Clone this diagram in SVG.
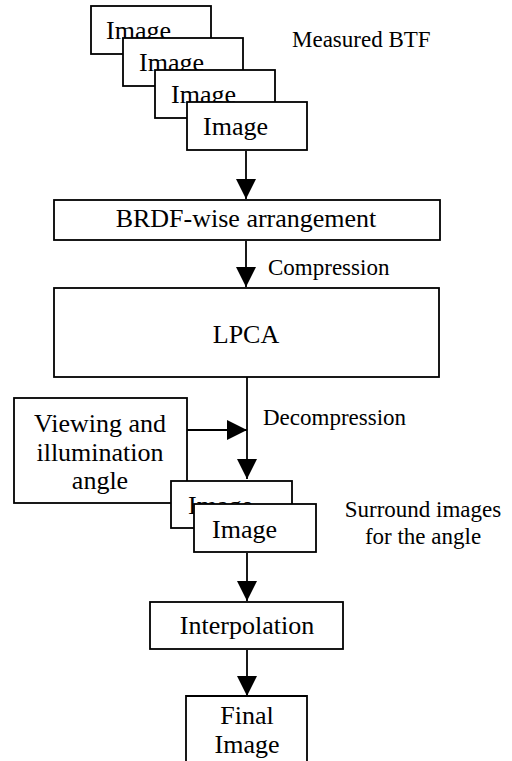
<svg xmlns="http://www.w3.org/2000/svg" width="512" height="761" viewBox="0 0 512 761">
<style>
.box{fill:#fff;stroke:#000;stroke-width:1.8}
.t{font-family:"Liberation Serif","Times New Roman",serif;font-size:26px;fill:#000}
.s{font-family:"Liberation Serif","Times New Roman",serif;font-size:23px;fill:#000}
.m{text-anchor:middle}
.ln{stroke:#000;stroke-width:1.8;fill:none}
</style>
<defs>
<marker id="ah" viewBox="0 0 20 20" refX="20" refY="10" markerWidth="20" markerHeight="20" markerUnits="userSpaceOnUse" orient="auto">
<path d="M0,0 L20,10 L0,20 Z" fill="#000"/>
</marker>
</defs>
<rect width="512" height="761" fill="#fff"/>
<g id="measured">
<g id="img1"><rect class="box" x="91" y="6" width="120" height="48"/><text class="t" x="106" y="39">Image</text></g>
<g id="img2"><rect class="box" x="123" y="38" width="120" height="48"/><text class="t" x="139" y="71">Image</text></g>
<g id="img3"><rect class="box" x="155" y="70" width="120" height="48"/><text class="t" x="171" y="103">Image</text></g>
<g id="img4"><rect class="box" x="187" y="102" width="120" height="48"/><text class="t" x="203" y="135">Image</text></g>
<text class="s" x="292" y="47" font-size="22">Measured BTF</text>
</g>
<g id="brdf"><rect class="box" x="54" y="200" width="386" height="40"/><text class="t m" x="246" y="227">BRDF-wise arrangement</text></g>
<g id="lpca"><rect class="box" x="54" y="288" width="385" height="89"/><text class="t m" x="246" y="343">LPCA</text></g>
<g id="viewing"><rect class="box" x="14" y="398" width="173" height="105"/>
<text class="t m" x="100" y="432">Viewing and</text>
<text class="t m" x="100" y="461">illumination</text>
<text class="t m" x="100" y="489">angle</text></g>
<g id="surround">
<g id="imgA"><rect class="box" x="171" y="481" width="121" height="47"/><text class="t" x="188" y="514">Image</text></g>
<g id="imgB"><rect class="box" x="194" y="504" width="122" height="48"/><text class="t" x="212" y="538">Image</text></g>
<text class="s m" x="423" y="517">Surround images</text>
<text class="s m" x="423" y="544">for the angle</text>
</g>
<g id="interp"><rect class="box" x="150" y="602" width="193" height="47"/><text class="t m" x="247" y="634">Interpolation</text></g>
<g id="final"><path class="box" d="M186,762 V696 H307 V762"/><text class="t m" x="247" y="724">Final</text><text class="t m" x="247" y="753">Image</text></g>
<g id="connectors">
<line class="ln" x1="246" y1="151" x2="246" y2="199" marker-end="url(#ah)"/>
<line class="ln" x1="246" y1="241" x2="246" y2="287" marker-end="url(#ah)"/>
<line class="ln" x1="247" y1="377" x2="247" y2="479" marker-end="url(#ah)"/>
<line class="ln" x1="187" y1="430" x2="247" y2="430" marker-end="url(#ah)"/>
<line class="ln" x1="247" y1="553" x2="247" y2="601" marker-end="url(#ah)"/>
<line class="ln" x1="247" y1="650" x2="247" y2="696" marker-end="url(#ah)"/>
</g>
<text class="s" x="268" y="275">Compression</text>
<text class="s" x="263" y="425">Decompression</text>
</svg>
